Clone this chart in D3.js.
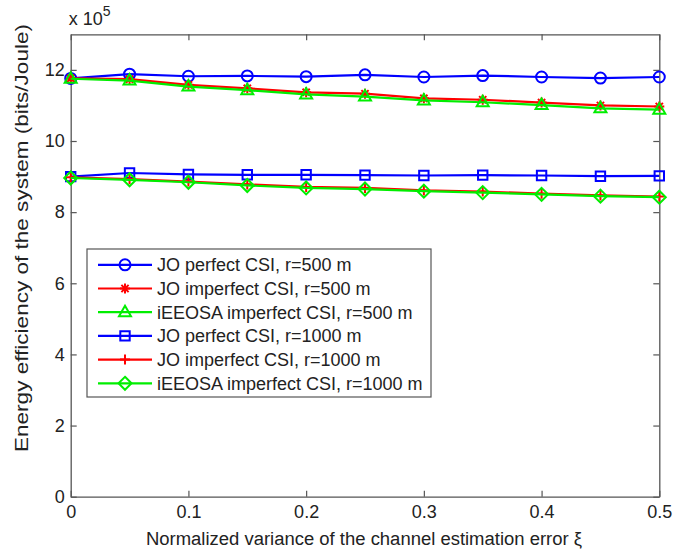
<!DOCTYPE html>
<html>
<head>
<meta charset="utf-8">
<script src="https://cdn.jsdelivr.net/npm/d3@7"></script>
<style>
  html, body { margin: 0; padding: 0; background: #fff; }
  svg { display: block; }
  text { font-family: "Liberation Sans", Arial, sans-serif; fill: #222; }
</style>
</head>
<body>
<svg id="chart" width="688" height="550"></svg>
<script>
// ---------------- data ----------------
const xi = [0, 0.05, 0.1, 0.15, 0.2, 0.25, 0.3, 0.35, 0.4, 0.45, 0.5];
const joPerfect500     = [11.76, 11.88, 11.82, 11.83, 11.81, 11.86, 11.80, 11.84, 11.80, 11.77, 11.80];
const joImperfect500   = [11.76, 11.74, 11.58, 11.48, 11.37, 11.33, 11.20, 11.16, 11.08, 11.00, 10.97];
const ieeosa500        = [11.75, 11.70, 11.53, 11.43, 11.31, 11.25, 11.14, 11.09, 11.01, 10.92, 10.88];
const joPerfect1000    = [9.00, 9.10, 9.06, 9.05, 9.05, 9.04, 9.03, 9.04, 9.03, 9.01, 9.02];
const joImperfect1000  = [8.98, 8.93, 8.86, 8.78, 8.71, 8.68, 8.61, 8.58, 8.52, 8.47, 8.44];
const ieeosa1000       = [8.96, 8.91, 8.84, 8.75, 8.68, 8.65, 8.59, 8.55, 8.50, 8.45, 8.42];
const seriesNames = [
  "JO perfect CSI, r=500 m",
  "JO imperfect CSI, r=500 m",
  "iEEOSA imperfect CSI, r=500 m",
  "JO perfect CSI, r=1000 m",
  "JO imperfect CSI, r=1000 m",
  "iEEOSA imperfect CSI, r=1000 m"
];
const xTicks = [0, 0.1, 0.2, 0.3, 0.4, 0.5];
const xTickLabels = ["0", "0.1", "0.2", "0.3", "0.4", "0.5"];
const yTicks = [0, 2, 4, 6, 8, 10, 12];
const yTickLabels = ["0", "2", "4", "6", "8", "10", "12"];

// ---------------- styles ----------------
const series = [
  { name: seriesNames[0], values: joPerfect500,    color: "#0000ff", marker: "circle" },
  { name: seriesNames[1], values: joImperfect500,  color: "#ff0000", marker: "star" },
  { name: seriesNames[2], values: ieeosa500,       color: "#00ee00", marker: "triangle" },
  { name: seriesNames[3], values: joPerfect1000,   color: "#0000ff", marker: "square" },
  { name: seriesNames[4], values: joImperfect1000, color: "#ff0000", marker: "plus" },
  { name: seriesNames[5], values: ieeosa1000,      color: "#00ee00", marker: "diamond" }
];

const svg = d3.select("#chart");
const L = 70.7, R = 659.3, T = 34.3, B = 496.7;
const x = d3.scaleLinear().domain([0, 0.5]).range([L, R]);
const y = d3.scaleLinear().domain([0, 13]).range([B, T]);
const axisColor = "#555";
const FS = 18;

function markerPath(type) {
  switch (type) {
    case "circle": return "M5.5,0A5.5,5.5 0 1,1 -5.5,0A5.5,5.5 0 1,1 5.5,0Z";
    case "square": return "M-4.7,-4.7H4.7V4.7H-4.7Z";
    case "triangle": return "M0,-6.5L6,4L-6,4Z";
    case "diamond": return "M0,-6.5L6.5,0L0,6.5L-6.5,0Z";
    case "plus": return "M-5,0H5M0,-5V5";
    case "star": return "M-5,0H5M0,-5V5M-3.6,-3.6L3.6,3.6M-3.6,3.6L3.6,-3.6";
  }
}

// axes (box with inward ticks)
const gx = svg.append("g").attr("transform", `translate(0,${B})`)
  .call(d3.axisBottom(x).tickValues(xTicks).tickFormat((d, i) => xTickLabels[i])
    .tickSizeInner(-6).tickSizeOuter(0).tickPadding(9));
const gxt = svg.append("g").attr("transform", `translate(0,${T})`)
  .call(d3.axisTop(x).tickValues(xTicks).tickFormat("").tickSizeInner(-6).tickSizeOuter(0));
const gy = svg.append("g").attr("transform", `translate(${L},0)`)
  .call(d3.axisLeft(y).tickValues(yTicks).tickFormat((d, i) => yTickLabels[i])
    .tickSizeInner(-6).tickSizeOuter(0).tickPadding(6));
const gyr = svg.append("g").attr("transform", `translate(${R},0)`)
  .call(d3.axisRight(y).tickValues(yTicks).tickFormat("").tickSizeInner(-6).tickSizeOuter(0));
[gx, gxt, gy, gyr].forEach(g => {
  g.selectAll("path.domain").attr("stroke", axisColor).attr("stroke-width", 1.3);
  g.selectAll(".tick line").attr("stroke", axisColor).attr("stroke-width", 1.2);
  g.selectAll(".tick text").attr("font-size", FS).attr("fill", "#222")
    .attr("font-family", "Liberation Sans, Arial, sans-serif");
});

// exponent label
const ex = svg.append("text").attr("x", L - 2).attr("y", 25).attr("font-size", FS);
ex.append("tspan").text("x 10");
ex.append("tspan").attr("dy", -9).attr("font-size", 14).text("5");

// axis titles
svg.append("text").attr("x", 364).attr("y", 545).attr("text-anchor", "middle")
  .attr("font-size", FS).attr("textLength", 436).attr("lengthAdjust", "spacingAndGlyphs")
  .text("Normalized variance of the channel estimation error ξ");
svg.append("text").attr("transform", `translate(28,238) rotate(-90)`)
  .attr("text-anchor", "middle").attr("font-size", FS)
  .attr("textLength", 428).attr("lengthAdjust", "spacingAndGlyphs")
  .text("Energy efficiency of the system  (bits/Joule)");

// series
const line = d3.line().x((d, i) => x(xi[i])).y(d => y(d));
series.forEach(s => {
  const g = svg.append("g");
  g.append("path").datum(s.values).attr("d", line).attr("fill", "none")
    .attr("stroke", s.color).attr("stroke-width", 2.2);
  g.selectAll("path.m").data(s.values).enter().append("path").attr("class", "m")
    .attr("transform", (d, i) => `translate(${x(xi[i])},${y(d)})`)
    .attr("d", markerPath(s.marker)).attr("fill", "none")
    .attr("stroke", s.color).attr("stroke-width", 2);
});

// legend
const lg = svg.append("g");
lg.append("rect").attr("x", 87).attr("y", 249).attr("width", 344).attr("height", 148)
  .attr("fill", "#fff").attr("stroke", axisColor).attr("stroke-width", 1.2);
series.forEach((s, i) => {
  const cy = 264.8 + i * 23.7;
  lg.append("line").attr("x1", 98).attr("x2", 152).attr("y1", cy).attr("y2", cy)
    .attr("stroke", s.color).attr("stroke-width", 2.2);
  lg.append("path").attr("transform", `translate(125,${cy})`).attr("d", markerPath(s.marker))
    .attr("fill", "none").attr("stroke", s.color).attr("stroke-width", 2);
  lg.append("text").attr("x", 157).attr("y", cy).attr("dy", "0.35em")
    .attr("font-size", FS).text(s.name);
});
</script>
</body>
</html>
